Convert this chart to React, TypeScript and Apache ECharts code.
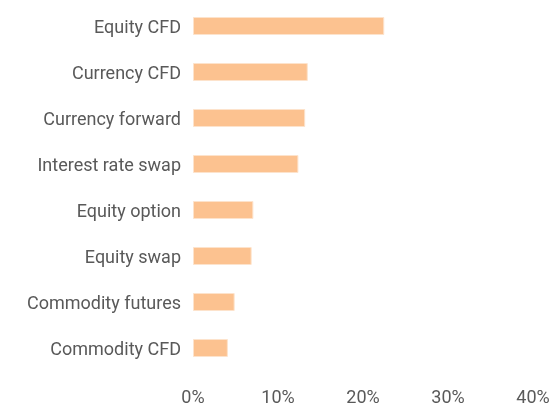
import React, { useEffect, useRef } from "react";
import * as echarts from "echarts";

const categories = [
  "Equity CFD",
  "Currency CFD",
  "Currency forward",
  "Interest rate swap",
  "Equity option",
  "Equity swap",
  "Commodity futures",
  "Commodity CFD",
];
const values = [22.5, 13.5, 13.2, 12.4, 7.1, 6.9, 4.9, 4.1];
const xTicks = [0, 10, 20, 30, 40];

export default function App() {
  const ref = useRef<HTMLDivElement>(null);
  useEffect(() => {
    if (!ref.current) return;
    const chart = echarts.init(ref.current, null, { renderer: "svg" });
    chart.setOption({
      animation: false,
      grid: { left: 193, right: 21, top: 3, bottom: 29, containLabel: false },
      xAxis: {
        type: "value",
        min: xTicks[0],
        max: xTicks[xTicks.length - 1],
        interval: 10,
        axisLine: { show: false },
        axisTick: { show: false },
        splitLine: { show: false },
        axisLabel: {
          formatter: "{value}%",
          color: "#595959",
          fontFamily: "Roboto",
          fontSize: 18,
          margin: 16,
        },
      },
      yAxis: {
        type: "category",
        inverse: true,
        data: categories,
        axisLine: { show: false },
        axisTick: { show: false },
        axisLabel: {
          color: "#595959",
          fontFamily: "Roboto",
          fontSize: 18,
          margin: 12,
        },
      },
      series: [
        {
          type: "bar",
          data: values,
          barWidth: 18,
          itemStyle: {
            color: "#FCC290",
            borderColor: "#FDE3CC",
            borderWidth: 1,
          },
        },
      ],
    });
    return () => chart.dispose();
  }, []);
  return (
    <div
      ref={ref}
      style={{ position: "fixed", left: 0, top: 0, width: 554, height: 405 }}
    />
  );
}
